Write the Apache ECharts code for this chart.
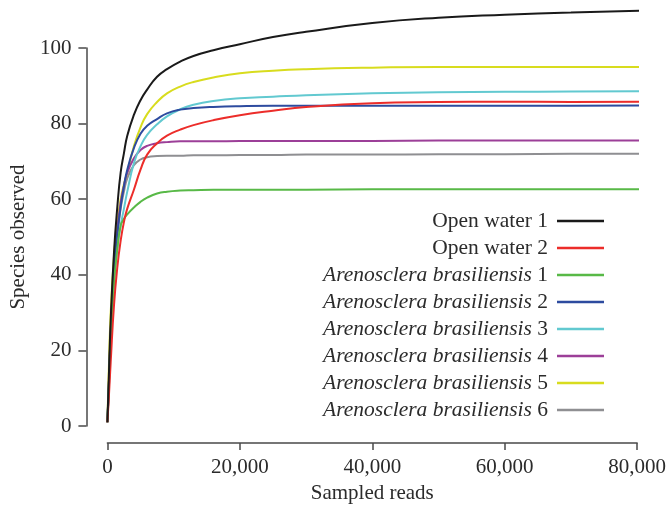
<!DOCTYPE html>
<html>
<head>
<meta charset="utf-8">
<script src="https://cdn.jsdelivr.net/npm/echarts@6/dist/echarts.min.js"></script>
<style>html,body{margin:0;padding:0;background:#fff;}#c{width:669px;height:509px;}</style>
</head>
<body>
<div id="c"></div>
<script>
var seriesNames = ['Open water 1', 'Open water 2', 'Arenosclera brasiliensis 1', 'Arenosclera brasiliensis 2', 'Arenosclera brasiliensis 3', 'Arenosclera brasiliensis 4', 'Arenosclera brasiliensis 5', 'Arenosclera brasiliensis 6'];
var sampledReads = [0, 200, 500, 1000, 1500, 2000, 2500, 3000, 4000, 5000, 6000, 7500, 9000, 11000, 13000, 16000, 20000, 25000, 30000, 40000, 50000, 60000, 70000, 83000];
var openWater1 = [1, 12, 28, 46, 58, 67, 72.2, 76.8, 82.3, 86.2, 89, 92.4, 94.4, 96.4, 97.9, 99.4, 101, 102.9, 104.3, 106.6, 108, 108.8, 109.4, 110];
var openWater2 = [1, 7, 17, 32, 42, 49, 54, 57.5, 62.5, 67.8, 71.8, 74.8, 76.8, 78.4, 79.6, 80.9, 82.2, 83.4, 84.4, 85.4, 85.7, 85.8, 85.7, 85.8];
var arenosclera1 = [1, 10, 24, 38, 47, 53, 54.8, 56, 57.8, 59.3, 60.4, 61.5, 62, 62.3, 62.4, 62.5, 62.5, 62.5, 62.5, 62.6, 62.6, 62.6, 62.6, 62.6];
var arenosclera2 = [1, 10, 25, 42, 51, 58, 63.5, 67.8, 73.5, 77.3, 79.4, 81.2, 82.7, 83.7, 84.1, 84.4, 84.6, 84.7, 84.7, 84.7, 84.7, 84.7, 84.7, 84.8];
var arenosclera3 = [1, 9, 22, 38, 47, 53, 57.5, 62, 69.5, 74, 77, 79.8, 81.9, 83.8, 85, 86, 86.7, 87.1, 87.5, 88, 88.3, 88.4, 88.5, 88.6];
var arenosclera4 = [1, 10, 25, 42, 52, 59, 63.5, 67, 70.8, 73, 74.1, 74.8, 75.1, 75.3, 75.3, 75.3, 75.4, 75.4, 75.4, 75.4, 75.5, 75.5, 75.5, 75.5];
var arenosclera5 = [1, 14, 30, 45, 54, 60, 64, 67, 74, 79, 82.5, 85.7, 88, 89.8, 91, 92.2, 93.3, 94, 94.4, 94.8, 95, 95, 95, 95];
var arenosclera6 = [1, 9, 23, 40, 50, 57.5, 62, 65.5, 69, 70.5, 71.1, 71.4, 71.5, 71.5, 71.6, 71.6, 71.7, 71.7, 71.8, 71.8, 71.9, 71.9, 72, 72];
var xTicks = [0, 20000, 40000, 60000, 80000];
var yTicks = [0, 20, 40, 60, 80, 100];
var colors = ['#1a1a1a', '#ec2d2a', '#58b947', '#2d4b9f', '#62c9d0', '#9c3f98', '#d8dc1e', '#8f8f92'];

var allValues = [openWater1, openWater2, arenosclera1, arenosclera2, arenosclera3, arenosclera4, arenosclera5, arenosclera6];
var FONT = '"Liberation Serif", "Times New Roman", serif';
var TXT = '#2b2b2b';

function fmt(v) { return String(v).replace(/\B(?=(\d{3})+(?!\d))/g, ','); }

var series = seriesNames.map(function (name, i) {
  return {
    name: name,
    type: 'line',
    smooth: 0.5,
    showSymbol: false,
    symbol: 'none',
    clip: false,
    lineStyle: { color: colors[i], width: 2 },
    itemStyle: { color: colors[i] },
    data: sampledReads.map(function (x, j) { return [x, allValues[i][j]]; }),
    z: 10 - i
  };
});

var chart = echarts.init(document.getElementById('c'), null, { renderer: 'canvas' });
chart.setOption({
  animation: false,
  backgroundColor: '#fff',
  color: colors,
  grid: { left: 107, right: 29, top: 48, bottom: 83, containLabel: false },
  xAxis: {
    type: 'value', min: xTicks[0], max: xTicks[xTicks.length - 1], interval: 20000,
    offset: 17,
    name: 'Sampled reads', nameLocation: 'middle', nameGap: 40,
    nameTextStyle: { fontFamily: FONT, fontSize: 21, color: TXT },
    axisLine: { show: true, onZero: false, lineStyle: { color: '#4a4a4a', width: 1.5 } },
    axisTick: { show: true, length: 7, lineStyle: { color: '#4a4a4a', width: 1.5 } },
    axisLabel: { fontFamily: FONT, fontSize: 21, color: TXT, margin: 14, formatter: fmt },
    splitLine: { show: false }
  },
  yAxis: {
    type: 'value', min: yTicks[0], max: yTicks[yTicks.length - 1], interval: 20,
    offset: 21,
    name: 'Species observed', nameLocation: 'middle', nameGap: 56,
    nameTextStyle: { fontFamily: FONT, fontSize: 21, color: TXT },
    axisLine: { show: true, onZero: false, lineStyle: { color: '#4a4a4a', width: 1.5 } },
    axisTick: { show: true, length: 8, lineStyle: { color: '#4a4a4a', width: 1.5 } },
    axisLabel: { fontFamily: FONT, fontSize: 21, color: TXT, margin: 15 },
    splitLine: { show: false }
  },
  legend: {
    orient: 'vertical', right: 60, top: 205, align: 'right',
    icon: 'rect', itemWidth: 47, itemHeight: 2.5, itemGap: 5,
    data: seriesNames,
    formatter: function (n) {
      var m = n.match(/^(Arenosclera brasiliensis) (\d)$/);
      return m ? '{i|' + m[1] + '} ' + m[2] : n;
    },
    textStyle: {
      fontFamily: FONT, fontSize: 21.5, color: TXT, lineHeight: 20, padding: [0, 4, 0, 0],
      rich: { i: { fontFamily: FONT, fontSize: 21.5, fontStyle: 'italic', color: TXT, lineHeight: 20 } }
    }
  },
  series: series
});
</script>
</body>
</html>
